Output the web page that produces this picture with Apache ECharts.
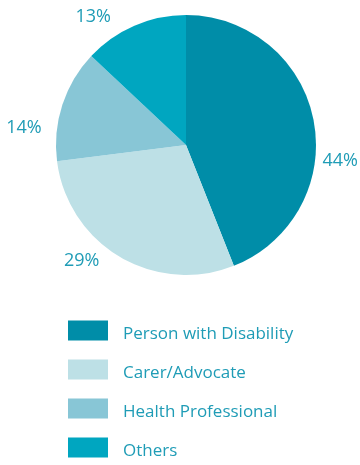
<!DOCTYPE html>
<html>
<head>
<meta charset="utf-8">
<script src="https://cdn.jsdelivr.net/npm/echarts@6/dist/echarts.min.js"></script>
<style>
  html, body { margin: 0; padding: 0; background: #ffffff; }
  #chart { width: 360px; height: 465px; }
</style>
</head>
<body>
<div id="chart"></div>
<script>
// Respondent groups and their share (%)
const categories = ['Person with Disability', 'Carer/Advocate', 'Health Professional', 'Others'];
const shares = [44, 29, 14, 13];
const colors = ['#008da8', '#bde0e6', '#88c6d6', '#00a6c0'];

// Percentage label placement around the pie: [distance from centre, angle clockwise from 12 o'clock]
const labelPolar = [[155, 96], [156, 222], [163, 276], [158, 324]];

const pieCenter = [186, 145];
const textColor = '#1f9cb6';
const fontFamily = '"Open Sans", "Noto Sans", sans-serif';

const chart = echarts.init(document.getElementById('chart'), null, { renderer: 'canvas' });

chart.setOption({
  animation: false,
  legend: {
    orient: 'vertical',
    left: 68,
    top: 318,
    height: 200,
    padding: 0,
    itemWidth: 40,
    itemHeight: 20,
    itemGap: 14,
    icon: 'rect',
    selectedMode: false,
    formatter: '{t|{name}}',
    textStyle: {
      color: textColor,
      fontSize: 17,
      fontFamily: fontFamily,
      padding: [0, 0, 0, 10],
      rich: {
        t: {
          color: textColor,
          fontSize: 17,
          fontFamily: fontFamily,
          lineHeight: 12,
          padding: [8, 0, 0, 0]
        }
      }
    },
    data: categories
  },
  series: [{
    type: 'pie',
    center: pieCenter,
    radius: 130,
    startAngle: 90,
    clockwise: true,
    avoidLabelOverlap: false,
    data: categories.map((name, i) => ({
      name: name,
      value: shares[i],
      itemStyle: { color: colors[i] }
    })),
    itemStyle: { borderWidth: 0 },
    label: {
      show: true,
      position: 'outside',
      formatter: '{c}%',
      color: textColor,
      fontSize: 18,
      fontFamily: fontFamily
    },
    labelLine: { show: false },
    labelLayout: function (p) {
      const [dist, deg] = labelPolar[p.dataIndex];
      const a = deg * Math.PI / 180;
      return {
        x: pieCenter[0] + dist * Math.sin(a),
        y: pieCenter[1] - dist * Math.cos(a),
        align: 'center',
        verticalAlign: 'middle'
      };
    },
    emphasis: { disabled: true }
  }]
});
</script>
</body>
</html>
